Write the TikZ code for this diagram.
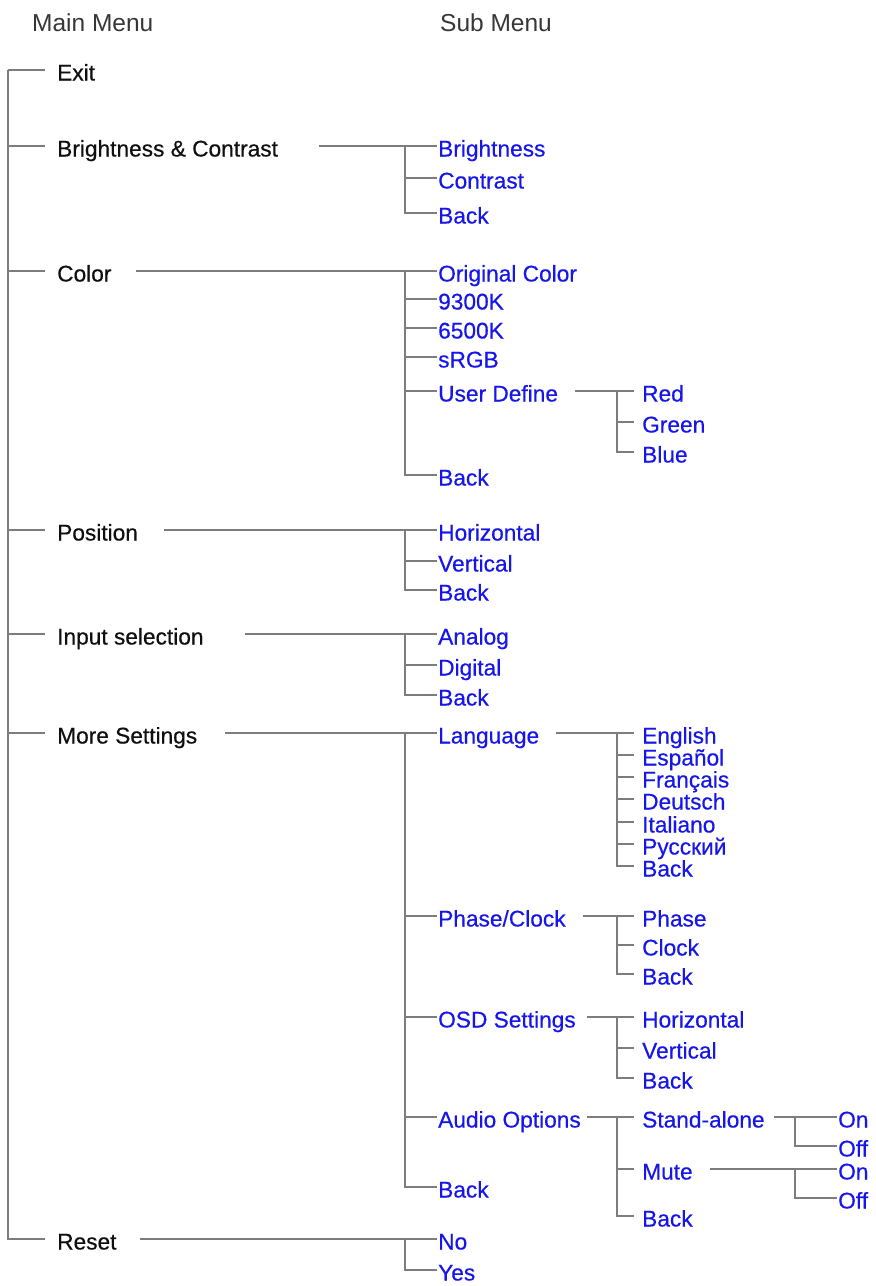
\documentclass[tikz,border=0pt]{standalone}
\usepackage{fontspec}
\setmainfont{Liberation Sans}
\newfontfamily\itemfam[FakeBold=0.5]{Liberation Sans}
\definecolor{lncol}{RGB}{125,125,125}
\definecolor{bluetxt}{RGB}{22,22,235}
\definecolor{blacktxt}{RGB}{15,15,15}
\definecolor{headtxt}{RGB}{55,55,55}
\begin{document}
\begin{tikzpicture}[x=1bp,y=-1bp,
  item/.style={anchor=west, inner sep=0pt, text height=21bp, text depth=0pt,
    font=\itemfam\fontsize{22.7bp}{27bp}\selectfont},
  mainitem/.style={item, text=blacktxt},
  subitem/.style={item, text=bluetxt},
  title/.style={anchor=base west, inner sep=0pt, text=headtxt,
    font=\fontsize{24.5bp}{29bp}\selectfont},
  conn/.style={draw=lncol, line width=1.6bp}]
\fill[white] (0,0) rectangle (876,1286);
\useasboundingbox (0,0) rectangle (876,1286);

% titles
\node[title] (tmain) at (32,31) {Main Menu};
\node[title] (tsub) at (440,31) {Sub Menu};

% main menu
\node[mainitem] (exit)  at (57,70)   {Exit};
\node[mainitem] (bc)    at (57,146)  {Brightness \& Contrast};
\node[mainitem] (color) at (57,271)  {Color};
\node[mainitem] (pos)   at (57,530)  {Position};
\node[mainitem] (inp)   at (57,634)  {Input selection};
\node[mainitem] (more)  at (57,733)  {More Settings};
\node[mainitem] (reset) at (57,1239) {Reset};

% sub menu
\node[subitem] (bright)   at (438,146) {Brightness};
\node[subitem] (contrast) at (438,178) {Contrast};
\node[subitem] (bcback)   at (438,213) {Back};

\node[subitem] (orig)  at (438,271) {Original Color};
\node[subitem] (k93)   at (438,299) {9300K};
\node[subitem] (k65)   at (438,328) {6500K};
\node[subitem] (srgb)  at (438,357) {sRGB};
\node[subitem] (ud)    at (438,391) {User Define};
\node[subitem] (cback) at (438,475) {Back};

\node[subitem] (red)   at (642,391) {Red};
\node[subitem] (green) at (642,422) {Green};
\node[subitem] (blue)  at (642,452) {Blue};

\node[subitem] (phor)  at (438,530) {Horizontal};
\node[subitem] (pver)  at (438,561) {Vertical};
\node[subitem] (pback) at (438,590) {Back};

\node[subitem] (analog) at (438,634) {Analog};
\node[subitem] (digit)  at (438,665) {Digital};
\node[subitem] (iback)  at (438,695) {Back};

\node[subitem] (lang)  at (438,733)  {Language};
\node[subitem] (phcl)  at (438,916)  {Phase/Clock};
\node[subitem] (osd)   at (438,1017) {OSD Settings};
\node[subitem] (audio) at (438,1117) {Audio Options};
\node[subitem] (mback) at (438,1187) {Back};

\node[subitem] (en) at (642,733) {English};
\node[subitem] (es) at (642,755) {Español};
\node[subitem] (fr) at (642,777) {Français};
\node[subitem] (de) at (642,799) {Deutsch};
\node[subitem] (it) at (642,822) {Italiano};
\node[subitem] (ru) at (642,844) {Русский};
\node[subitem] (lback) at (642,866) {Back};

\node[subitem] (phase) at (642,916) {Phase};
\node[subitem] (clock) at (642,945) {Clock};
\node[subitem] (pcback) at (642,974) {Back};

\node[subitem] (ohor)  at (642,1017) {Horizontal};
\node[subitem] (over)  at (642,1048) {Vertical};
\node[subitem] (oback) at (642,1078) {Back};

\node[subitem] (sa)    at (642,1117) {Stand-alone};
\node[subitem] (mute)  at (642,1169) {Mute};
\node[subitem] (aback) at (642,1216) {Back};

\node[subitem] (on1)  at (838,1117) {On};
\node[subitem] (off1) at (838,1146) {Off};
\node[subitem] (on2)  at (838,1169) {On};
\node[subitem] (off2) at (838,1198) {Off};

\node[subitem] (no)  at (438,1239) {No};
\node[subitem] (yes) at (438,1270) {Yes};

% main spine
\draw[conn] ([xshift=-49bp]exit.west) -- ([xshift=-49bp]reset.west) -- ([xshift=-12bp]reset.west);
\foreach \n in {exit,bc,color,pos,inp,more}
  \draw[conn] ([xshift=-49bp]\n.west) -- ([xshift=-12bp]\n.west);

% main -> sub
\draw[conn] ([xshift=41bp]bc.east) -- ([xshift=-1bp]bright.west);
\draw[conn] ([xshift=24bp]color.east) -- ([xshift=-1bp]orig.west);
\draw[conn] ([xshift=26bp]pos.east) -- ([xshift=-1bp]phor.west);
\draw[conn] ([xshift=41bp]inp.east) -- ([xshift=-1bp]analog.west);
\draw[conn] ([xshift=28bp]more.east) -- ([xshift=-1bp]lang.west);
\draw[conn] ([xshift=23bp]reset.east) -- ([xshift=-1bp]no.west);

% sub spines
\draw[conn] ([xshift=-33bp]bright.west) -- ([xshift=-33bp]bcback.west) -- ([xshift=-1bp]bcback.west);
\draw[conn] ([xshift=-33bp]contrast.west) -- ([xshift=-1bp]contrast.west);

\draw[conn] ([xshift=-33bp]orig.west) -- ([xshift=-33bp]cback.west) -- ([xshift=-1bp]cback.west);
\foreach \n in {k93,k65,srgb,ud}
  \draw[conn] ([xshift=-33bp]\n.west) -- ([xshift=-1bp]\n.west);

\draw[conn] ([xshift=-33bp]phor.west) -- ([xshift=-33bp]pback.west) -- ([xshift=-1bp]pback.west);
\draw[conn] ([xshift=-33bp]pver.west) -- ([xshift=-1bp]pver.west);

\draw[conn] ([xshift=-33bp]analog.west) -- ([xshift=-33bp]iback.west) -- ([xshift=-1bp]iback.west);
\draw[conn] ([xshift=-33bp]digit.west) -- ([xshift=-1bp]digit.west);

\draw[conn] ([xshift=-33bp]lang.west) -- ([xshift=-33bp]mback.west) -- ([xshift=-1bp]mback.west);
\foreach \n in {phcl,osd,audio}
  \draw[conn] ([xshift=-33bp]\n.west) -- ([xshift=-1bp]\n.west);

\draw[conn] ([xshift=-33bp]no.west) -- ([xshift=-33bp]yes.west) -- ([xshift=-1bp]yes.west);

% third level
\draw[conn] ([xshift=17bp]ud.east) -- ([xshift=-8bp]red.west);
\draw[conn] ([xshift=-25bp]red.west) -- ([xshift=-25bp]blue.west) -- ([xshift=-8bp]blue.west);
\draw[conn] ([xshift=-25bp]green.west) -- ([xshift=-8bp]green.west);

\draw[conn] ([xshift=17bp]lang.east) -- ([xshift=-8bp]en.west);
\draw[conn] ([xshift=-25bp]en.west) -- ([xshift=-25bp]lback.west) -- ([xshift=-8bp]lback.west);
\foreach \n in {es,fr,de,it,ru}
  \draw[conn] ([xshift=-25bp]\n.west) -- ([xshift=-8bp]\n.west);

\draw[conn] ([xshift=17bp]phcl.east) -- ([xshift=-8bp]phase.west);
\draw[conn] ([xshift=-25bp]phase.west) -- ([xshift=-25bp]pcback.west) -- ([xshift=-8bp]pcback.west);
\draw[conn] ([xshift=-25bp]clock.west) -- ([xshift=-8bp]clock.west);

\draw[conn] ([xshift=11bp]osd.east) -- ([xshift=-8bp]ohor.west);
\draw[conn] ([xshift=-25bp]ohor.west) -- ([xshift=-25bp]oback.west) -- ([xshift=-8bp]oback.west);
\draw[conn] ([xshift=-25bp]over.west) -- ([xshift=-8bp]over.west);

\draw[conn] ([xshift=6bp]audio.east) -- ([xshift=-8bp]sa.west);
\draw[conn] ([xshift=-25bp]sa.west) -- ([xshift=-25bp]aback.west) -- ([xshift=-8bp]aback.west);
\draw[conn] ([xshift=-25bp]mute.west) -- ([xshift=-8bp]mute.west);

% fourth level
\draw[conn] ([xshift=9bp]sa.east) -- ([xshift=-1bp]on1.west);
\draw[conn] ([xshift=-43bp]on1.west) -- ([xshift=-43bp]off1.west) -- ([xshift=-1bp]off1.west);
\draw[conn] ([xshift=17bp]mute.east) -- ([xshift=-1bp]on2.west);
\draw[conn] ([xshift=-43bp]on2.west) -- ([xshift=-43bp]off2.west) -- ([xshift=-1bp]off2.west);
\end{tikzpicture}
\end{document}
